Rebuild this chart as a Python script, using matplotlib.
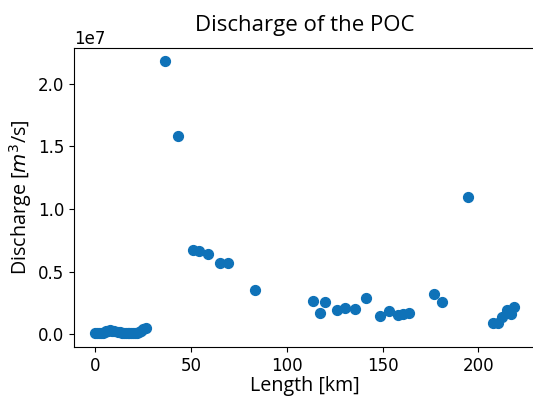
import numpy as np
import matplotlib
matplotlib.use('Agg')
import matplotlib.pyplot as plt

# Length along the river [km] and POC discharge [m^3/s]
length_km = [0, 1, 2, 3, 4, 5, 6, 7, 8, 9, 10,
             12, 13, 14, 15, 16, 17, 18, 19, 20, 21, 22, 23, 24, 25.2, 26.6,
             36.4, 43.5, 51.0, 54.5, 58.8, 65.3, 69.3, 83.3,
             113.6, 117.4, 120.2, 126.4, 130.6, 135.4, 141.6,
             148.9, 153.6, 158.1, 160.7, 163.8, 176.6, 181.1, 194.8,
             207.6, 210.0, 212.3, 214.9, 217.1, 218.8]
discharge = [0.010, 0.008, 0.010, 0.012, 0.015, 0.020, 0.025, 0.030, 0.032, 0.030, 0.028,
             0.018, 0.016, 0.014, 0.012, 0.010, 0.008, 0.008, 0.010, 0.010, 0.012, 0.015, 0.018, 0.025, 0.040, 0.055,
             2.18, 1.584, 0.676, 0.666, 0.642, 0.566, 0.566, 0.358,
             0.264, 0.173, 0.261, 0.197, 0.208, 0.200, 0.288,
             0.149, 0.189, 0.157, 0.163, 0.171, 0.325, 0.259, 1.100,
             0.091, 0.094, 0.139, 0.192, 0.160, 0.221]

x = np.array(length_km)
y = np.array(discharge) * 1e7

fig = plt.figure(figsize=(5.33, 3.99), dpi=100)
ax = fig.add_axes([74 / 533, 1 - 347 / 399, (535.4 - 74) / 533, (347 - 47.7) / 399])

ax.scatter(x, y, s=50, color='#0f72b8')

ax.set_title('Discharge of the POC', fontsize=16, family='Open Sans', pad=12)
ax.set_xlabel('Length [km]', fontsize=14.2, family='Open Sans', labelpad=1)
ax.set_ylabel('Discharge [$m^3$/s]', fontsize=14.2, family='Open Sans', labelpad=3)
ax.tick_params(labelsize=12)
ax.yaxis.get_offset_text().set_fontsize(12)
ax.set_xticks([0, 50, 100, 150, 200])
ax.set_yticks([0, 0.5e7, 1.0e7, 1.5e7, 2.0e7])

fig.savefig('out.png', dpi=100)
